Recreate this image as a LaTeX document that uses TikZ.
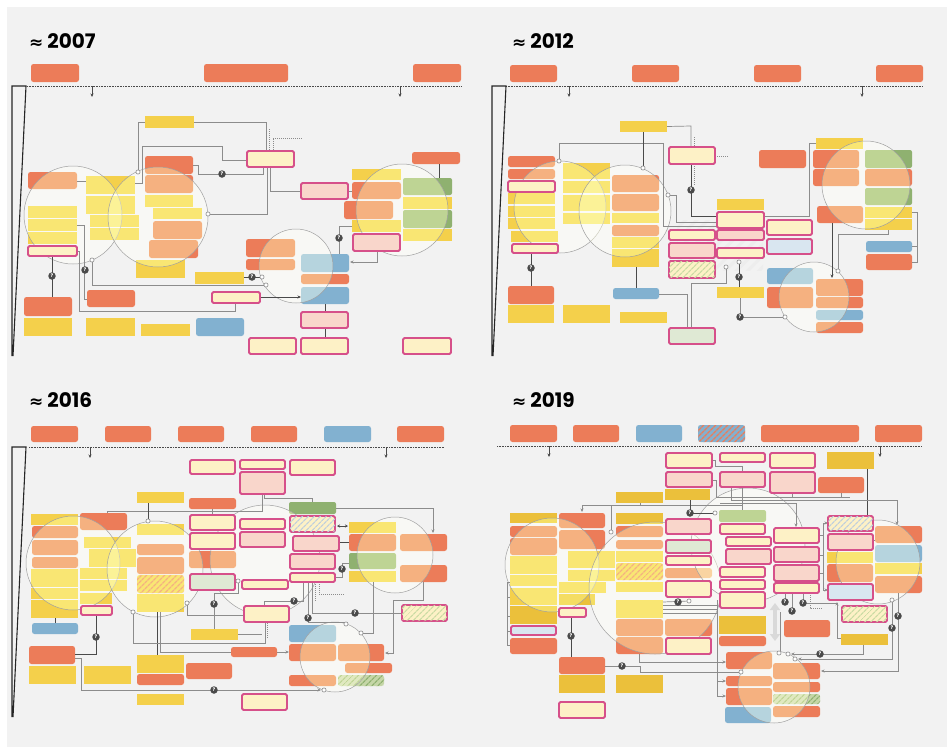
\documentclass[tikz,border=0pt]{standalone}
\usepackage{fontspec}
\setmainfont{Poppins}
\newfontfamily\djv{DejaVu Sans}
\usetikzlibrary{arrows.meta,patterns.meta}
\definecolor{cBg}{HTML}{F2F2F2}
\definecolor{cOr}{HTML}{EC7C59}
\definecolor{cYe}{HTML}{F4D04B}
\definecolor{cDy}{HTML}{EBC03B}
\definecolor{cBl}{HTML}{82B1D0}
\definecolor{cGr}{HTML}{8FB170}
\definecolor{cGrL}{HTML}{C5D6A7}
\definecolor{cCr}{HTML}{FDF1C6}
\definecolor{cPl}{HTML}{F9D6CB}
\definecolor{cPb}{HTML}{D9E6F0}
\definecolor{cPg}{HTML}{DFE9D4}
\definecolor{cPk}{HTML}{D6508A}
\definecolor{cLn}{HTML}{8C8C8C}
\definecolor{cDk}{HTML}{4A4A4A}
\definecolor{cCl}{HTML}{A0A0A0}
\definecolor{cHb}{HTML}{BFCFDD}
\definecolor{cHg}{HTML}{CADBA4}
\definecolor{cSL}{HTML}{FFFFD2}
\tikzset{
 bx/.style={anchor=north west,inner sep=0pt,outer sep=0pt},
 sor/.style={bx,fill=cOr,rounded corners=2.5pt},
 sye/.style={bx,fill=cYe},
 sdy/.style={bx,fill=cDy},
 sbl/.style={bx,fill=cBl,rounded corners=2.5pt},
 sgr/.style={bx,fill=cGr,rounded corners=2pt},
 spc/.style={bx,fill=cCr,draw=cPk,line width=1.8pt,rounded corners=1.5pt},
 spp/.style={spc,fill=cPl},
 spb/.style={spc,fill=cPb},
 spg/.style={spc,fill=cPg},
 sph/.style={spc,postaction={pattern={Lines[angle=45,distance=4pt,line width=1.3pt]},pattern color=cHb}},
 sphg/.style={spc,postaction={pattern={Lines[angle=45,distance=4pt,line width=1.3pt]},pattern color=cHg}},
 sho/.style={bx,fill=cYe,rounded corners=2.5pt,postaction={pattern={Lines[angle=45,distance=4pt,line width=1.4pt]},pattern color=cOr}},
 shg/.style={bx,fill=cGrL,rounded corners=2.5pt,postaction={pattern={Lines[angle=45,distance=4pt,line width=1.4pt]},pattern color=cGr}},
 shb/.style={bx,fill=cBl,rounded corners=2.5pt,postaction={pattern={Lines[angle=45,distance=4pt,line width=1.4pt]},pattern color=cOr}},
 bcf/.style={circle,inner sep=0pt,fill=cSL,blend mode=soft light},
 bco/.style={draw=cCl,line width=0.5pt},
 ln/.style={draw=cLn,line width=0.7pt},
 lnk/.style={draw=cDk,line width=0.8pt},
 lnd/.style={draw=cLn,line width=0.7pt,dash pattern=on 1pt off 1pt},
 tl/.style={draw=cDk,line width=0.9pt,dash pattern=on 0.9pt off 0.7pt},
 wg/.style={draw=black!85,line width=1.1pt},
 ar/.style={-{Stealth[length=3.5pt,width=3pt]}},
 hc/.style={circle,draw=cLn,fill=white,inner sep=0pt,minimum size=4.2pt,line width=0.6pt},
 dm/.style={circle,fill=cDk,inner sep=0pt,minimum size=7.5pt,text=white,font=\fontsize{5}{5}\selectfont\bfseries},
 ttl/.style={anchor=base west,inner sep=0pt,font=\bfseries\fontsize{20}{20}\selectfont},
 bigar/.style={draw=black!15,line width=4pt,{Triangle[width=10pt,length=7pt]}-{Triangle[width=10pt,length=7pt]}},
}
\newcommand\Bx[6]{\node[#2,minimum width={#5-#3},minimum height={#6-#4}] (#1) at (#3,#4) {};}
\newcommand\Ci[4]{\node[bcf,minimum size={2*#4}] (#1) at (#2,#3) {};\draw[bco] (#1.center) circle[radius=#4];}
\newcommand\Hc[3]{\node[hc] (#1) at (#2,#3) {};}
\newcommand\Dm[3]{\node[dm] (#1) at (#2,#3) {?};}
\newcommand\tapx{{\djv\bfseries\fontsize{17}{17}\selectfont ≈}\hspace{4pt}}
\begin{document}
\begin{tikzpicture}[x=1pt,y=-1pt]
\useasboundingbox (0,0) rectangle (947,747);
\fill[white] (0,0) rectangle (947,747);
\fill[cBg] (7,7) rectangle (947,747);

% ================= titles =================
\node[ttl] (T1) at (29,48) {\tapx 2007};
\node[ttl] (T2) at (512,48) {\tapx 2012};
\node[ttl] (T3) at (29,407) {\tapx 2016};
\node[ttl] (T4) at (512,407) {\tapx 2019};

% ================= Q1 2007 =================
\coordinate (L1a) at (27,86); \coordinate (L1b) at (461,86);
\draw[tl] (L1a) -- (L1b);
\draw[wg] (12,356) -- (12,86) -- (26,86) -- (13,356);
\coordinate (A1a) at (92,86); \coordinate (A1b) at (92,97); \draw[lnk,ar] (A1a) -- (A1b);
\coordinate (A1c) at (400,86); \coordinate (A1d) at (400,97); \draw[lnk,ar] (A1c) -- (A1d);
\Bx{q1a1}{sor}{31}{64}{79}{82}
\Bx{q1a2}{sor}{204}{64}{288}{82}
\Bx{q1a3}{sor}{413}{64}{461}{82}
\Bx{q1l1}{sor}{28}{172}{77}{189}
\Bx{q1l2}{sye}{28}{206}{77}{218}
\Bx{q1l3}{sye}{28}{219}{77}{231}
\Bx{q1l4}{sye}{28}{232}{77}{244}
\Bx{q1l6}{sor}{24}{297}{72}{316}
\Bx{q1l7}{sye}{24}{318}{72}{336}
\Bx{q1m1}{sye}{86}{176}{135}{194}
\Bx{q1m2}{sye}{86}{196}{135}{214}
\Bx{q1m3}{sye}{90}{215}{139}{227}
\Bx{q1m4}{sye}{90}{228}{139}{240}
\Bx{q1m5}{sor}{87}{290}{135}{307}
\Bx{q1m6}{sye}{86}{318}{135}{336}
\Bx{q1n0}{sye}{145}{116}{194}{128}
\Bx{q1n1}{sor}{145}{156}{193}{174}
\Bx{q1n2}{sor}{145}{175}{193}{193}
\Bx{q1n3}{sye}{145}{195}{193}{207}
\Bx{q1n4}{sye}{153}{208}{202}{219}
\Bx{q1n5}{sor}{153}{221}{202}{239}
\Bx{q1n6}{sor}{149}{240}{198}{258}
\Bx{q1n7}{sye}{136}{260}{185}{278}
\Bx{q1n8}{sye}{141}{324}{190}{336}
\Bx{q1n9}{sbl}{196}{318}{244}{336}
\Bx{q1o1}{sor}{246}{239}{295}{257}
\Bx{q1o2}{sor}{246}{259}{295}{270}
\Bx{q1y1}{sye}{195}{272}{244}{284}
\Bx{q1b1}{sbl}{301}{254}{349}{272}
\Bx{q1b2}{sor}{301}{274}{349}{284}
\Bx{q1b3}{sbl}{301}{287}{349}{304}
\Bx{q1r0}{sor}{412}{152}{460}{164}
\Bx{q1r1}{sye}{352}{169}{401}{180}
\Bx{q1r2}{sor}{352}{182}{401}{199}
\Bx{q1r3}{sor}{344}{201}{393}{219}
\Bx{q1r4}{sye}{352}{220}{401}{232}
\Bx{q1g1}{sgr}{403}{178}{452}{195}
\Bx{q1g2}{sye}{403}{197}{452}{209}
\Bx{q1g3}{sgr}{403}{210}{452}{228}
\Bx{q1g4}{sye}{403}{229}{452}{241}
\Ci{q1c1}{73}{215}{49}
\Ci{q1c2}{158}{217}{50}
\Ci{q1c3}{296}{266}{37}
\Ci{q1c4}{402}{210}{46}
\draw[ln] (q1n0.east) -- (266,122) -- (266,151);
\draw[ln] (q1n0.west) -- (138,122) -- (138,172);
\draw[ln] (135,183) -- (142,183) -- (142,146) -- (222,146) -- (222,160) -- (247,160);
\draw[ln] (77,181) -- (86,181);
\draw[ln] (193,165) -- (198,165) -- (198,174) -- (263,174) -- (263,167);
\draw[ln] (267,167) -- (267,214) -- (208,214);
\draw[ln] (270,167) -- (270,191) -- (301,191);
\draw[lnd] (269,129) -- (269,150);
\draw[lnd] (273,150) -- (273,138) -- (303,138);
\draw[ln] (77,251) -- (79,251) -- (79,311) -- (235,311) -- (235,303);
\draw[ln] (77,225) -- (84,225) -- (84,299) -- (87,299);
\draw[lnk] (52,256) -- (52,297);
\draw[ln] (92,260) -- (92,285) -- (266,285);
\draw[lnk] (244,277) -- (262,277);
\draw[lnk,ar] (260,297) -- (301,297);
\draw[lnk] (325,304) -- (325,338);
\draw[lnk] (439,164) -- (439,178);
\draw[ln,ar] (377,251) -- (377,262) -- (350,262);
\draw[ln] (352,226) -- (339,226) -- (339,254);
\draw[ln] (348,191) -- (352,191);
\Bx{q1p1}{spc}{247}{151}{294}{167}
\Bx{q1p7}{spp}{301}{183}{348}{199}
\Bx{q1l5}{spc}{28}{246}{77}{256}
\Bx{q1p2}{spc}{212}{292}{260}{303}
\Bx{q1p3}{spp}{301}{312}{348}{328}
\Bx{q1p4}{spc}{301}{338}{348}{354}
\Bx{q1p5}{spc}{249}{338}{296}{354}
\Bx{q1p6}{spc}{403}{338}{451}{354}
\Bx{q1p8}{spp}{353}{234}{400}{251}
\Hc{q1h1}{138}{172} \Hc{q1h2}{208}{214} \Hc{q1h3}{92}{260} \Hc{q1h4}{262}{277} \Hc{q1h5}{266}{285}
\Dm{q1d1}{222}{174} \Dm{q1d2}{85}{270} \Dm{q1d3}{52}{276} \Dm{q1d4}{252}{277} \Dm{q1d5}{339}{238}

% ================= Q2 2012 =================
\coordinate (L2a) at (506,86); \coordinate (L2b) at (923,86);
\draw[tl] (L2a) -- (L2b);
\draw[wg] (492,356) -- (492,86) -- (506,86) -- (493,356);
\coordinate (A2a) at (569,86); \coordinate (A2b) at (569,97); \draw[lnk,ar] (A2a) -- (A2b);
\coordinate (A2c) at (862,86); \coordinate (A2d) at (862,97); \draw[lnk,ar] (A2c) -- (A2d);
\Bx{q2a1}{sor}{510}{65}{557}{82}
\Bx{q2a2}{sor}{632}{65}{679}{82}
\Bx{q2a3}{sor}{754}{65}{801}{82}
\Bx{q2a4}{sor}{876}{65}{923}{82}
\Bx{q2n0}{sye}{620}{121}{667}{132}
\Bx{q2o1}{sor}{759}{150}{806}{168}
\Bx{q2y1}{sye}{816}{138}{863}{149}
\Bx{q2o2}{sor}{813}{150}{859}{168}
\Bx{q2o3}{sor}{813}{169}{859}{186}
\Bx{q2g1}{sgr}{865}{150}{912}{168}
\Bx{q2o4}{sor}{865}{169}{912}{186}
\Bx{q2g2}{sgr}{865}{188}{912}{205}
\Bx{q2y2}{sye}{865}{207}{912}{218}
\Bx{q2y3}{sye}{865}{219}{912}{230}
\Bx{q2o5}{sor}{817}{206}{863}{223}
\Bx{q2b1}{sbl}{866}{241}{912}{252}
\Bx{q2o6}{sor}{866}{254}{912}{270}
\Bx{q2l1}{sor}{508}{156}{555}{167}
\Bx{q2l2}{sor}{508}{169}{555}{179}
\Bx{q2l4}{sye}{508}{193}{555}{204}
\Bx{q2l5}{sye}{508}{206}{555}{217}
\Bx{q2l6}{sye}{508}{218}{555}{229}
\Bx{q2l7}{sye}{511}{231}{558}{242}
\Bx{q2l9}{sor}{508}{286}{554}{304}
\Bx{q2l10}{sye}{508}{305}{554}{323}
\Bx{q2m1}{sye}{563}{163}{610}{179}
\Bx{q2m2}{sye}{563}{181}{610}{193}
\Bx{q2m3}{sye}{563}{195}{610}{211}
\Bx{q2m4}{sye}{563}{213}{610}{224}
\Bx{q2m5}{sye}{563}{305}{610}{323}
\Bx{q2n1}{sor}{612}{175}{659}{192}
\Bx{q2n2}{sor}{612}{194}{659}{211}
\Bx{q2n3}{sye}{612}{213}{659}{223}
\Bx{q2n4}{sor}{612}{225}{659}{236}
\Bx{q2n5}{sye}{612}{237}{659}{248}
\Bx{q2n6}{sye}{612}{249}{659}{267}
\Bx{q2n7}{sbl}{613}{288}{659}{299}
\Bx{q2n8}{sye}{620}{312}{667}{323}
\Bx{q2y4}{sye}{717}{199}{764}{210}
\Bx{q2b2}{sbl}{767}{268}{813}{284}
\Bx{q2o7}{sor}{767}{287}{813}{308}
\Bx{q2y5}{sye}{717}{287}{764}{298}
\Bx{q2o8}{sor}{816}{279}{863}{296}
\Bx{q2o9}{sor}{816}{297}{863}{308}
\Bx{q2b3}{sbl}{816}{310}{863}{320}
\Bx{q2o10}{sor}{816}{322}{863}{333}
\Ci{q2c1}{560}{207}{46}
\Ci{q2c2}{625}{211}{46}
\Ci{q2c3}{866}{185}{44}
\Ci{q2c4}{814}{297}{35}
\fill[pattern={Lines[angle=45,distance=8pt,line width=3pt]},pattern color=black!7] (677,220) rectangle (763,270);
\draw[ln] (q2n0.east) -- (691,126) -- (691,147);
\draw[lnk] (691,164) -- (691,216) -- (717,216);
\draw[ln] (559,161) -- (559,143) -- (663,143) -- (663,226) -- (717,226);
\draw[lnk] (643,132) -- (643,168);
\draw[ln] (668,195) -- (676,195) -- (676,222) -- (717,222);
\draw[lnd] (694,137) -- (694,147);
\draw[lnd] (694,164) -- (694,186);
\draw[lnd] (715,156) -- (729,156);
\draw[ln] (764,216) -- (809,216) -- (809,143) -- (816,143);
\draw[ln] (888,230) -- (888,234) -- (838,234) -- (838,271);
\draw[lnk,ar] (832,223) -- (832,278);
\draw[ln] (912,212) -- (917,212) -- (917,262) -- (912,262);
\draw[ln] (912,246) -- (917,246);
\draw[lnk] (531,253) -- (531,286);
\draw[lnk] (636,267) -- (636,288);
\draw[ln] (659,294) -- (687,294) -- (687,328);
\draw[ln] (691,328) -- (691,283) -- (726,283) -- (726,267);
\draw[lnk] (739,262) -- (739,287);
\draw[ln] (740,298) -- (740,317) -- (785,317);
\Bx{q2p1}{spc}{669}{147}{715}{164}
\Bx{q2l3}{spc}{508}{181}{555}{192}
\Bx{q2l8}{spc}{512}{244}{558}{253}
\Bx{q2p2}{spc}{717}{212}{764}{228}
\Bx{q2p3}{spp}{717}{230}{764}{240}
\Bx{q2p4}{spc}{717}{248}{764}{258}
\Bx{q2p5}{spc}{669}{230}{715}{240}
\Bx{q2p6}{spp}{669}{243}{715}{258}
\Bx{q2p7}{sphg}{669}{261}{715}{278}
\Bx{q2p8}{spc}{767}{220}{812}{235}
\Bx{q2p9}{spb}{767}{239}{812}{254}
\Bx{q2p10}{spg}{669}{328}{715}{344}
\Hc{q2h1}{559}{161} \Hc{q2h2}{643}{168} \Hc{q2h3}{668}{195} \Hc{q2h4}{838}{271}
\Hc{q2h5}{726}{267} \Hc{q2h6}{739}{262} \Hc{q2h7}{785}{317}
\Dm{q2d1}{691}{190} \Dm{q2d2}{531}{268} \Dm{q2d3}{739}{277} \Dm{q2d4}{740}{317}

% ================= Q3 2016 =================
\coordinate (L3a) at (29,447); \coordinate (L3b) at (444,447);
\draw[tl] (L3a) -- (L3b);
\draw[wg] (12,717) -- (12,447) -- (26,447) -- (13,717);
\coordinate (A3a) at (90,447); \coordinate (A3b) at (90,458); \draw[lnk,ar] (A3a) -- (A3b);
\coordinate (A3c) at (386,447); \coordinate (A3d) at (386,458); \draw[lnk,ar] (A3c) -- (A3d);
\Bx{q3a1}{sor}{31}{426}{78}{442}
\Bx{q3a2}{sor}{105}{426}{151}{442}
\Bx{q3a3}{sor}{178}{426}{224}{442}
\Bx{q3a4}{sor}{251}{426}{297}{442}
\Bx{q3a5}{sbl}{324}{426}{371}{442}
\Bx{q3a6}{sor}{397}{426}{444}{442}
\Bx{q3g1}{sgr}{289}{502}{336}{514}
\Bx{q3o1}{sor}{189}{498}{236}{509}
\Bx{q3y1}{sye}{137}{492}{184}{503}
\Bx{q3c3}{sor}{189}{551}{236}{568}
\Bx{q3r1}{sye}{349}{522}{396}{533}
\Bx{q3r2}{sor}{349}{534}{396}{551}
\Bx{q3r3}{sgr}{349}{553}{396}{569}
\Bx{q3r4}{sye}{349}{571}{396}{582}
\Bx{q3r5}{sor}{400}{534}{447}{551}
\Bx{q3r6}{sor}{400}{565}{447}{582}
\Bx{q3l1}{sye}{31}{514}{78}{525}
\Bx{q3l2}{sor}{32}{526}{78}{538}
\Bx{q3l3}{sor}{32}{540}{78}{555}
\Bx{q3l4}{sor}{32}{557}{78}{568}
\Bx{q3l5}{sye}{31}{569}{78}{587}
\Bx{q3l6}{sye}{31}{588}{78}{599}
\Bx{q3l7}{sye}{31}{600}{78}{618}
\Bx{q3l8}{sbl}{32}{623}{78}{634}
\Bx{q3l9}{sor}{29}{646}{75}{664}
\Bx{q3l10}{sye}{29}{666}{76}{684}
\Bx{q3m0}{sor}{80}{513}{127}{530}
\Bx{q3m1}{sye}{84}{537}{131}{548}
\Bx{q3m2}{sye}{89}{549}{136}{567}
\Bx{q3m3}{sye}{80}{568}{127}{579}
\Bx{q3m4}{sye}{80}{580}{127}{591}
\Bx{q3m5}{sye}{80}{593}{112}{604}
\Bx{q3m7}{sye}{84}{666}{131}{684}
\Bx{q3n1}{sye}{137}{524}{184}{535}
\Bx{q3n2}{sor}{137}{544}{184}{555}
\Bx{q3n3}{sor}{137}{557}{184}{574}
\Bx{q3n4}{sho}{137}{575}{184}{593}
\Bx{q3n5}{sye}{137}{594}{184}{612}
\Bx{q3n6}{sye}{137}{655}{184}{673}
\Bx{q3n7}{sor}{137}{674}{184}{685}
\Bx{q3n8}{sye}{137}{694}{184}{705}
\Bx{q3b2}{sye}{191}{629}{238}{640}
\Bx{q3b3}{sor}{231}{647}{277}{657}
\Bx{q3b4}{sor}{186}{663}{232}{679}
\Bx{q3s1}{sbl}{289}{625}{336}{642}
\Bx{q3s2}{sor}{289}{644}{336}{661}
\Bx{q3s3}{sor}{338}{644}{384}{661}
\Bx{q3s4}{sor}{345}{663}{392}{673}
\Bx{q3s5}{sor}{289}{675}{336}{686}
\Bx{q3s6}{shg}{338}{675}{384}{686}
\Ci{q3c1}{73}{563}{47}
\Ci{q3c2}{155}{569}{48}
\Ci{q3c3x}{265}{560}{55}
\Ci{q3c4}{395}{555}{38}
\Ci{q3c5}{335}{657}{35}
\draw[ln] (262,494) -- (262,511) -- (212,511) -- (212,515);
\draw[ln] (107,513) -- (107,511) -- (212,511);
\draw[ln] (212,509) -- (212,511);
\draw[lnk] (148,503) -- (148,521);
\draw[ln] (264,494) -- (264,498) -- (312,498) -- (312,502);
\draw[ln,ar] (336,508) -- (433,508) -- (433,533);
\draw[lnk,{Stealth[length=3pt,width=3pt]}-{Stealth[length=3pt,width=3pt]}] (337,526) -- (348,526);
\draw[lnk] (339,542) -- (349,542);
\draw[ln] (335,577) -- (342,577) -- (342,563) -- (349,563);
\draw[ln] (303,582) -- (303,601) -- (264,601) -- (264,606);
\draw[ln] (308,582) -- (308,622) -- (346,622) -- (346,624);
\draw[ln] (312,582) -- (312,613) -- (402,613);
\draw[lnd] (315,582) -- (315,602);
\draw[lnd] (319,582) -- (319,594) -- (345,594);
\draw[ln,ar] (423,582) -- (423,600) -- (393,600) -- (393,653) -- (385,653);
\draw[ln] (373,582) -- (373,633) -- (361,633);
\draw[lnk] (96,615) -- (96,654) -- (75,654);
\draw[ln,ar] (75,658) -- (81,658) -- (81,690) -- (321,690);
\draw[ln,ar] (277,652) -- (289,652);
\draw[ln] (160,612) -- (160,652) -- (231,652);
\draw[lnk] (157,612) -- (157,655);
\draw[ln] (133,612) -- (133,643) -- (265,643) -- (265,622);
\draw[ln] (238,634) -- (262,634);
\draw[ln] (187,603) -- (187,615) -- (244,615);
\draw[ln] (238,581) -- (238,593) -- (214,593) -- (214,629);
\draw[lnd] (267,623) -- (267,638);
\draw[lnk] (55,618) -- (55,623);
\Bx{q3t1}{spc}{190}{460}{235}{474}
\Bx{q3t2}{spc}{240}{460}{285}{469}
\Bx{q3t3}{spc}{290}{460}{335}{475}
\Bx{q3t4}{spp}{240}{472}{285}{494}
\Bx{q3c1x}{spc}{190}{515}{235}{530}
\Bx{q3c2x}{spc}{190}{533}{235}{549}
\Bx{q3c4x}{spg}{190}{574}{235}{590}
\Bx{q3d1}{spc}{240}{519}{285}{529}
\Bx{q3d2}{spp}{240}{532}{285}{547}
\Bx{q3d3}{spc}{242}{580}{288}{589}
\Bx{q3e1}{sph}{290}{516}{335}{532}
\Bx{q3e2}{spp}{293}{536}{339}{551}
\Bx{q3e3}{spp}{290}{554}{335}{569}
\Bx{q3e4}{spc}{290}{573}{335}{582}
\Bx{q3r7}{sphg}{402}{605}{447}{621}
\Bx{q3m6}{spc}{81}{606}{112}{615}
\Bx{q3b1}{spc}{244}{606}{289}{622}
\Bx{q3b5}{spc}{242}{694}{287}{710}
\Hc{q3h1}{148}{521} \Hc{q3h2}{346}{624} \Hc{q3h3}{361}{633} \Hc{q3h4}{324}{690}
\Hc{q3h5}{133}{612} \Hc{q3h6}{187}{603} \Hc{q3h7}{238}{581}
\Dm{q3d1m}{342}{569} \Dm{q3d2m}{294}{601} \Dm{q3d3m}{308}{618} \Dm{q3d4m}{355}{613}
\Dm{q3d5m}{96}{637} \Dm{q3d6m}{214}{690} \Dm{q3d7m}{214}{604}

% ================= Q4 2019 =================
\coordinate (L4a) at (497,446); \coordinate (L4b) at (922,446);
\draw[tl] (L4a) -- (L4b);
\coordinate (A4a) at (549,446); \coordinate (A4b) at (549,457); \draw[lnk,ar] (A4a) -- (A4b);
\coordinate (A4c) at (880,446); \coordinate (A4d) at (880,457); \draw[lnk,ar] (A4c) -- (A4d);
\Bx{q4a1}{sor}{510}{425}{557}{442}
\Bx{q4a2}{sor}{573}{425}{619}{442}
\Bx{q4a3}{sbl}{636}{425}{682}{442}
\Bx{q4a4}{shb}{698}{425}{745}{442}
\Bx{q4a5}{sor}{761}{425}{859}{442}
\Bx{q4a6}{sor}{875}{425}{922}{442}
\Bx{q4d1}{sdy}{827}{452}{874}{469}
\Bx{q4o1}{sor}{818}{477}{864}{493}
\Bx{q4y1}{sdy}{616}{492}{663}{503}
\Bx{q4y2}{sdy}{665}{489}{710}{500}
\Bx{q4g1}{sgr}{719}{510}{766}{522}
\Bx{q4l1}{sdy}{510}{513}{557}{523}
\Bx{q4l2}{sor}{510}{526}{557}{537}
\Bx{q4l3}{sor}{510}{538}{557}{555}
\Bx{q4l4}{sye}{510}{556}{557}{574}
\Bx{q4l5}{sye}{510}{575}{557}{586}
\Bx{q4l6}{sye}{510}{588}{557}{605}
\Bx{q4l7}{sdy}{510}{606}{557}{624}
\Bx{q4l9}{sor}{510}{638}{557}{654}
\Bx{q4m1}{sor}{559}{513}{605}{528}
\Bx{q4m2}{sor}{559}{530}{605}{549}
\Bx{q4m3}{sye}{568}{551}{615}{568}
\Bx{q4m4}{sye}{568}{570}{615}{581}
\Bx{q4m5}{sye}{559}{582}{606}{593}
\Bx{q4m6}{sdy}{559}{594}{595}{605}
\Bx{q4m8}{sor}{559}{657}{605}{674}
\Bx{q4m9}{sdy}{559}{675}{605}{693}
\Bx{q4n1}{sdy}{616}{513}{663}{524}
\Bx{q4n2}{sor}{616}{526}{663}{537}
\Bx{q4n3}{sor}{616}{540}{663}{549}
\Bx{q4n4}{sye}{616}{551}{663}{562}
\Bx{q4n5}{sho}{616}{563}{663}{580}
\Bx{q4n6}{sye}{616}{582}{663}{592}
\Bx{q4n7}{sye}{616}{600}{663}{618}
\Bx{q4n8}{sor}{616}{619}{663}{636}
\Bx{q4n9}{sor}{616}{637}{663}{654}
\Bx{q4n10}{sdy}{616}{675}{663}{693}
\Bx{q4c4}{sor}{665}{568}{712}{578}
\Bx{q4c6}{sor}{665}{619}{712}{636}
\Bx{q4d8}{sdy}{719}{616}{766}{634}
\Bx{q4d9}{sor}{719}{636}{766}{646}
\Bx{q4f3}{sye}{827}{552}{873}{563}
\Bx{q4f4}{sor}{827}{564}{873}{582}
\Bx{q4g2}{sor}{875}{526}{922}{543}
\Bx{q4g3}{sbl}{875}{545}{922}{562}
\Bx{q4g4}{sye}{875}{563}{922}{574}
\Bx{q4g5}{sor}{875}{576}{922}{593}
\Bx{q4o2}{sor}{784}{620}{830}{637}
\Bx{q4y3}{sdy}{841}{634}{888}{645}
\Bx{q4k1}{sor}{726}{652}{772}{669}
\Bx{q4k2}{sor}{726}{676}{772}{686}
\Bx{q4k3}{sor}{726}{688}{772}{705}
\Bx{q4k4}{sbl}{725}{707}{771}{723}
\Bx{q4k5}{sor}{773}{663}{820}{679}
\Bx{q4k6}{sor}{773}{682}{820}{692}
\Bx{q4k7}{shg}{773}{694}{820}{704}
\Bx{q4k8}{sor}{773}{706}{820}{717}
\coordinate (G4a) at (775,603); \coordinate (G4b) at (775,641);
\draw[bigar] (G4a) -- (G4b);
\Ci{q4c1x}{552}{565}{47}
\Ci{q4c2x}{655}{588}{66}
\Ci{q4c3x}{748}{545}{57}
\Ci{q4c4x}{878}{562}{42}
\Ci{q4c5x}{774}{687}{36}
\draw[lnk] (867,469) -- (867,516);
\draw[ln] (712,460) -- (715,460) -- (715,466) -- (742,466) -- (742,472);
\draw[ln] (742,487) -- (742,510);
\draw[ln] (713,480) -- (716,480) -- (716,497) -- (850,497);
\draw[ln] (792,493) -- (792,497);
\draw[ln] (841,493) -- (841,497);
\draw[ln] (731,487) -- (731,500) -- (897,500);
\draw[ln,ar] (897,500) -- (897,525);
\draw[ln] (720,503) -- (796,503);
\draw[ln,ar] (796,503) -- (796,527);
\draw[ln,ar] (742,505) -- (582,505) -- (582,512);
\draw[ln] (611,505) -- (611,532);
\draw[ln] (640,503) -- (640,505);
\draw[lnk] (690,500) -- (690,513) -- (715,513);
\draw[ln] (819,535) -- (823,535);
\draw[ln] (819,555) -- (823,555);
\draw[ln] (819,573) -- (823,573);
\draw[ln] (823,523) -- (823,590);
\draw[ln,ar] (823,523) -- (828,523);
\draw[ln,ar] (823,590) -- (828,590);
\draw[ln] (873,540) -- (875,540);
\draw[ln] (510,582) -- (507,582) -- (507,645) -- (510,645);
\draw[ln] (507,597) -- (510,597);
\draw[ln] (507,616) -- (510,616);
\draw[ln] (507,631) -- (511,631);
\draw[lnk] (571,617) -- (571,657);
\draw[ln] (605,666) -- (640,666) -- (640,672) -- (741,672);
\draw[ln,ar] (639,654) -- (639,662) -- (726,662);
\draw[ln] (717,600) -- (717,697);
\draw[ln,ar] (717,681) -- (726,681);
\draw[ln,ar] (717,696) -- (726,696);
\draw[ln] (663,605) -- (717,605);
\draw[ln] (663,609) -- (717,609);
\draw[ln] (663,613) -- (717,613);
\draw[ln] (663,602) -- (689,601);
\draw[ln,ar] (837,638) -- (837,602);
\draw[ln] (837,638) -- (841,638);
\draw[ln,ar] (863,645) -- (863,654) -- (791,654);
\draw[ln,ar] (892,600) -- (892,659) -- (798,659);
\draw[ln,ar] (898,593) -- (898,671) -- (821,671);
\draw[ln] (785,593) -- (785,602);
\draw[ln] (792,593) -- (792,611);
\draw[ln] (803,593) -- (803,603) -- (838,603);
\draw[ln] (780,612) -- (780,651);
\draw[lnd] (810,593) -- (810,608) -- (822,608);
\Bx{q4t1}{spc}{666}{453}{712}{468}
\Bx{q4t2}{spc}{720}{453}{765}{462}
\Bx{q4t3}{spc}{770}{453}{815}{468}
\Bx{q4t4}{spp}{666}{472}{712}{487}
\Bx{q4t5}{spp}{720}{472}{765}{487}
\Bx{q4t6}{spp}{770}{472}{815}{493}
\Bx{q4l8}{spb}{511}{626}{556}{635}
\Bx{q4m7}{spc}{559}{608}{586}{617}
\Bx{q4m10}{spc}{559}{702}{605}{718}
\Bx{q4c1}{spp}{666}{519}{711}{534}
\Bx{q4c2}{spg}{666}{540}{711}{553}
\Bx{q4c3}{spc}{666}{556}{711}{565}
\Bx{q4c5}{spc}{666}{581}{711}{597}
\Bx{q4c7}{spc}{666}{638}{711}{654}
\Bx{q4d2}{spc}{720}{524}{765}{534}
\Bx{q4d3}{spc}{726}{537}{771}{546}
\Bx{q4d4}{spp}{726}{549}{771}{564}
\Bx{q4d5}{spc}{720}{567}{765}{577}
\Bx{q4d6}{spc}{720}{580}{765}{589}
\Bx{q4d7}{spc}{720}{592}{765}{608}
\Bx{q4e1}{spc}{774}{528}{819}{543}
\Bx{q4e2}{spp}{774}{547}{819}{562}
\Bx{q4e3}{spp}{774}{565}{819}{581}
\Bx{q4e4}{spc}{774}{583}{819}{593}
\Bx{q4f1}{sph}{828}{516}{873}{531}
\Bx{q4f2}{spp}{828}{534}{873}{550}
\Bx{q4f5}{spb}{828}{584}{873}{600}
\Bx{q4h1}{sphg}{842}{606}{887}{622}
\Hc{q4h1m}{611}{532} \Hc{q4h2m}{715}{513} \Hc{q4h3m}{689}{601} \Hc{q4h4m}{741}{672}
\Hc{q4h5m}{779}{653} \Hc{q4h6m}{788}{654} \Hc{q4h7m}{795}{659} \Hc{q4h8m}{892}{600}
\Dm{q4d1m}{690}{513} \Dm{q4d2m}{571}{636} \Dm{q4d3m}{622}{666} \Dm{q4d4m}{678}{602}
\Dm{q4d5m}{820}{654} \Dm{q4d6m}{892}{628} \Dm{q4d7m}{898}{616} \Dm{q4d8m}{785}{602}
\Dm{q4d9m}{792}{611} \Dm{q4d10m}{803}{603}
\end{tikzpicture}
\end{document}
